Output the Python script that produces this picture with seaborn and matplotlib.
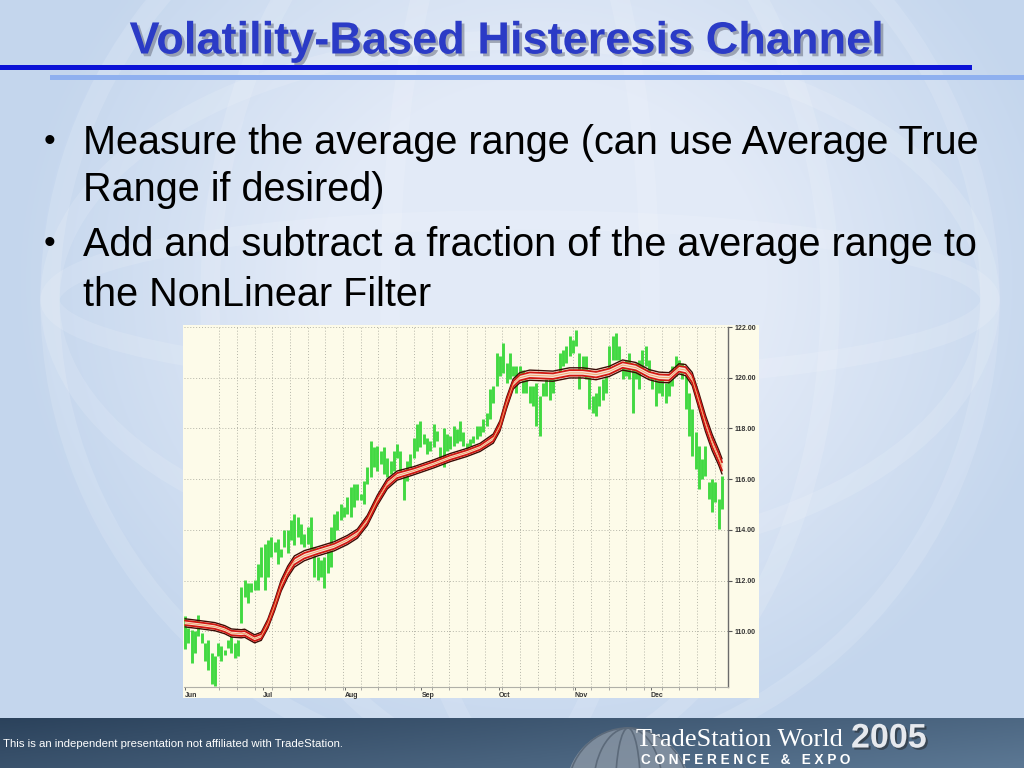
import numpy as np
import matplotlib
matplotlib.use("Agg")
import matplotlib.pyplot as plt
import matplotlib.patheffects as pe
from matplotlib.patches import Rectangle, Circle, Ellipse
import seaborn as sns

# ---- data ----
bar_high = [
    110.6, 110.12, 110.06, 110.0, 110.65, 109.93, 109.54, 109.67, 109.15, 109.01,
    109.54, 109.4, 109.27, 109.67, 109.8, 109.54, 109.67, 111.76, 112.02, 111.89,
    111.89, 112.02, 112.67, 113.33, 113.46, 113.59, 113.72, 113.52, 113.65, 113.26,
    113.98, 113.98, 114.37, 114.64, 114.5, 114.24, 113.85, 114.11,
    114.5, 113.33, 112.93, 112.8, 112.93, 113.2, 114.11, 114.64, 114.76, 115.03,
    114.9, 115.29, 115.68, 115.81, 115.81, 115.42, 115.94, 116.46, 117.51, 117.25,
    117.31, 117.12, 117.25, 116.85, 116.73, 117.12, 117.38, 117.12, 116.2, 116.73,
    116.99, 117.64, 118.16, 118.29, 117.77, 117.64, 117.51, 118.16, 117.9, 117.25,
    118.03, 117.77, 117.7,
    118.1, 117.97, 118.29, 117.84, 117.44, 117.58, 117.7, 118.1, 118.1, 118.36,
    118.62, 119.54, 119.67, 120.97, 120.84, 121.36, 120.58, 120.97, 120.45, 120.45,
    120.45, 120.32, 119.93, 119.67, 119.67, 119.8, 119.27, 119.8, 119.93, 120.06,
    120.19, 120.19, 120.97, 121.11, 121.24, 121.63, 121.5, 121.89, 120.97, 120.84,
    120.84, 120.32, 119.27, 119.4, 119.67, 119.93, 120.06, 121.24, 121.63, 121.76,
    121.24, 120.58, 120.71, 120.97, 120.45, 120.58, 120.71, 121.11, 121.24, 120.71,
    120.19, 120.06, 120.06, 119.93, 119.8, 119.93, 120.45, 120.84, 120.71, 120.58,
    120.06, 119.4, 118.75, 117.84, 117.31, 116.79, 117.31, 115.88, 116.01, 115.88,
    115.22, 116.14,
]
bar_low = [
    109.3, 109.54, 108.75, 109.15, 109.8, 109.54, 108.82, 108.49, 107.9, 107.84,
    109.01, 108.82, 109.08, 109.34, 109.15, 108.95, 109.01, 110.32, 111.36, 111.1,
    111.56, 111.63, 111.63, 112.15, 111.63, 112.15, 112.93, 113.13, 112.67, 112.93,
    113.33, 113.07, 113.59, 113.39, 113.72, 113.46, 113.33, 113.46,
    113.2, 112.15, 112.02, 112.15, 111.69, 112.28, 112.54, 113.59, 113.98, 114.37,
    114.5, 114.64, 114.5, 114.9, 115.16, 115.16, 115.03, 115.81, 116.07, 116.46,
    116.33, 116.6, 116.2, 116.07, 116.2, 116.33, 116.85, 116.33, 115.16, 115.94,
    116.46, 116.85, 117.12, 117.25, 117.38, 116.99, 117.12, 117.25, 117.51, 116.85,
    116.46, 117.12, 117.18,
    117.31, 117.44, 117.51, 117.31, 117.18, 117.31, 117.44, 117.58, 117.7, 117.84,
    118.1, 118.36, 119.01, 119.67, 120.06, 120.19, 119.8, 119.93, 120.06, 119.4,
    119.93, 119.4, 119.4, 119.01, 118.88, 118.1, 117.7, 119.27, 119.27, 119.14,
    119.4, 119.93, 120.19, 120.45, 120.58, 120.84, 120.97, 121.24, 119.54, 120.06,
    119.93, 118.75, 118.62, 118.49, 118.88, 119.14, 119.4, 120.32, 120.71, 120.71,
    120.71, 119.93, 120.06, 119.93, 118.62, 119.93, 119.54, 120.19, 120.45, 119.93,
    119.54, 118.88, 119.4, 119.27, 119.01, 119.27, 119.67, 120.06, 120.19, 119.93,
    118.75, 117.7, 116.92, 116.4, 115.62, 116.01, 116.14, 115.22, 114.7, 115.09,
    114.05, 114.83,
]

# nonlinear filter (channel centre) and half width of the channel, at bar numbers
filt_bar = [0, 5, 9, 12, 14, 17, 18, 21, 23, 25, 27, 29, 31, 33, 36, 40, 45, 49, 52,
            55, 58, 61, 64, 69, 75, 80, 85, 89, 93, 95, 97, 99, 101, 104, 111, 116,
            120, 124, 128, 132, 136, 140, 143, 146, 149, 151, 153, 155, 157, 159,
            161, 162]
filt_mid = [110.33, 110.25, 110.18, 110.06, 109.93, 109.9, 109.92, 109.7, 109.8,
            110.3, 111.0, 111.8, 112.35, 112.75, 112.98, 113.15, 113.35, 113.6,
            113.85, 114.37, 115.16, 115.81, 116.14, 116.33, 116.6, 116.85, 117.05,
            117.25, 117.6, 118.1, 119.0, 119.75, 120.0, 120.1, 120.06, 120.19,
            120.19, 120.12, 120.25, 120.5, 120.4, 120.12, 120.02, 120.0, 120.35,
            120.3, 119.95, 119.1, 118.2, 117.45, 116.85, 116.5]
filt_half = [0.16, 0.16, 0.16, 0.16, 0.16, 0.16, 0.16, 0.16, 0.16, 0.18, 0.2, 0.22,
             0.22, 0.22, 0.2, 0.18, 0.18, 0.18, 0.18, 0.2, 0.2, 0.2, 0.18, 0.16,
             0.16, 0.16, 0.16, 0.16, 0.18, 0.2, 0.22, 0.2, 0.2, 0.2, 0.2, 0.2,
             0.2, 0.2, 0.2, 0.2, 0.2, 0.2, 0.2, 0.2, 0.2, 0.22, 0.26, 0.3, 0.32,
             0.32, 0.3, 0.3]

month_names = ["Jun", "Jul", "Aug", "Sep", "Oct", "Nov", "Dec"]
month_bar = [0, 23.6, 48.3, 71.3, 94.6, 117.5, 140.5]
price_ticks = [110, 112, 114, 116, 118, 120, 122]

title = "Volatility-Based Histeresis Channel"
bullets = [
    ["Measure the average range (can use Average True", "Range if desired)"],
    ["Add and subtract a fraction of the average range to", "the NonLinear Filter"],
]
footer_note = "This is an independent presentation not affiliated with TradeStation."

sns.set_theme(style="white")
plt.rcParams["font.family"] = ["Liberation Sans", "DejaVu Sans"]

fig = plt.figure(figsize=(10.24, 7.68), dpi=100)

# ---- slide background ----
bg = fig.add_axes([0, 0, 1, 1])
bg.set_xlim(0, 1024)
bg.set_ylim(768, 0)
bg.axis("off")

yy, xx = np.mgrid[0:768:4, 0:1024:4]
r = np.hypot(xx - 540, (yy - 280) * 1.1) / 480
s = np.clip((r - 0.45) / 0.65, 0, 1)
light = np.array([0.89, 0.92, 0.97])
dark = np.array([0.77, 0.84, 0.93])
img = light[None, None, :] * (1 - s[..., None]) + dark[None, None, :] * s[..., None]
bg.imshow(img, extent=[0, 1024, 768, 0], aspect="auto", interpolation="bilinear", zorder=0)
for w, h in [(940, 940), (620, 940), (260, 940), (940, 520), (940, 160)]:
    bg.add_patch(Ellipse((520, 300), w, h, fill=False, ec="white", lw=14, alpha=0.13, zorder=1))

# footer band
fx = np.linspace(0, 1, 200)
fy = np.linspace(0, 1, 20)
FX, FY = np.meshgrid(fx, fy)
c0 = np.array([0.17, 0.26, 0.36])
c1 = np.array([0.36, 0.47, 0.58])
t = np.clip(0.7 * FX + 0.3 * FY, 0, 1)
fimg = c0[None, None, :] * (1 - t[..., None]) + c1[None, None, :] * t[..., None]
bg.imshow(fimg, extent=[0, 1024, 768, 718], aspect="auto", zorder=2)
bg.set_xlim(0, 1024)
bg.set_ylim(768, 0)
bg.add_patch(Circle((628, 790), 62, fc="#8c98a6", ec="none", alpha=0.8, zorder=3))
for w in [120, 70, 25]:
    bg.add_patch(Ellipse((628, 790), w, 124, fill=False, ec="#5c6a7a", lw=1.2, zorder=3))
bg.text(3, 744, footer_note, color="white", fontsize=8.2, va="center", ha="left", zorder=4)
bg.text(636, 740, "TradeStation World", color="white", fontsize=19, va="center", ha="left",
        family=["Liberation Serif", "DejaVu Serif"], zorder=4)
bg.text(851, 739, "2005", color="#e6e9ee", fontsize=24.5, weight="bold", va="center", ha="left",
        zorder=4, path_effects=[pe.withSimplePatchShadow(offset=(1.5, -1.5), shadow_rgbFace="#222", alpha=0.5)])
bg.text(641, 760, "C O N F E R E N C E   &   E X P O", color="white", fontsize=9.8, weight="bold",
        va="center", ha="left", zorder=4)

# title and rules
bg.text(506, 42, title, color="#2b3bc6", fontsize=32.5, weight="bold", ha="center", va="center",
        zorder=4,
        path_effects=[pe.withSimplePatchShadow(offset=(2, -2), shadow_rgbFace="#6a6f80", alpha=0.55)])
bg.add_patch(Rectangle((0, 65), 972, 5, fc="#0b12d6", ec="none", zorder=4))
bg.add_patch(Rectangle((50, 75), 974, 5, fc="#8fb0ef", ec="none", zorder=4))

# bullets
line_y = [[143, 190], [245, 295]]
for lines, ys in zip(bullets, line_y):
    bg.text(44, ys[0], "\u2022", fontsize=24, va="center", ha="left", color="black", zorder=4)
    for txt, y in zip(lines, ys):
        bg.text(83, y, txt, fontsize=28.5, va="center", ha="left", color="black", zorder=4)

# chart picture frame
bg.add_patch(Rectangle((183, 325), 576, 373, fc="#fdfbe9", ec="none", zorder=4))

# ---- chart ----
ax = fig.add_axes([184 / 1024, 1 - 687 / 768, 544 / 1024, 360 / 768])
ax.set_facecolor("#fdfbe9")
bars = np.arange(len(bar_high))
ax.set_xlim(-0.3, 163.8)
ax.set_ylim(107.8, 122.0)

week_lines = np.arange(10.3, 163, 5.34)
ax.vlines(week_lines, 107.8, 122.0, colors="#b5b5a8", linestyles=(0, (1, 2)), lw=0.7, zorder=1)
ax.hlines(price_ticks, -0.3, 163.8, colors="#b5b5a8", linestyles=(0, (1, 2)), lw=0.7, zorder=1)

ax.vlines(bars, bar_low, bar_high, colors="#42d942", lw=2.1, zorder=2)

mid = np.array(filt_mid)
half = np.array(filt_half)
fb = np.array(filt_bar)
ax.fill_between(fb, mid - 0.5 * half, mid + 0.5 * half, color="#f8e0d4", zorder=3)
sns.lineplot(x=fb, y=mid + half, ax=ax, color="#3a0c06", lw=1.0, estimator=None, sort=False, zorder=4)
sns.lineplot(x=fb, y=mid - half, ax=ax, color="#3a0c06", lw=1.0, estimator=None, sort=False, zorder=4)
sns.lineplot(x=fb, y=mid + 0.55 * half, ax=ax, color="#d01812", lw=1.3, estimator=None, sort=False, zorder=4)
sns.lineplot(x=fb, y=mid - 0.55 * half, ax=ax, color="#d01812", lw=1.3, estimator=None, sort=False, zorder=4)
sns.lineplot(x=fb, y=mid, ax=ax, color="#f0a060", lw=0.6, estimator=None, sort=False, zorder=4)

ax.yaxis.tick_right()
ax.set_yticks(price_ticks)
ax.set_yticklabels([f"{v:.2f}" for v in price_ticks])
ax.set_xticks(month_bar)
ax.set_xticklabels(month_names, ha="left")
ax.set_xticks(week_lines, minor=True)
ax.tick_params(axis="y", which="major", length=3, width=0.8, color="#555", pad=1.5,
               labelsize=5, labelcolor="#333", right=True, left=False)
ax.tick_params(axis="x", which="major", length=2, width=0.6, color="#555", pad=1.5,
               labelsize=5, labelcolor="#333", bottom=True)
ax.tick_params(axis="x", which="minor", length=2, width=0.5, color="#888", bottom=True)
for lbl in ax.get_xticklabels() + ax.get_yticklabels():
    lbl.set_fontweight("bold")
ax.set_xlabel("")
ax.set_ylabel("")
ax.grid(False)
for side in ["left", "top"]:
    ax.spines[side].set_visible(False)
ax.spines["right"].set_color("#6b6b6b")
ax.spines["right"].set_linewidth(1.0)
ax.spines["bottom"].set_color("#b0b0a8")
ax.spines["bottom"].set_linewidth(0.8)

fig.savefig("out.png", dpi=100)
